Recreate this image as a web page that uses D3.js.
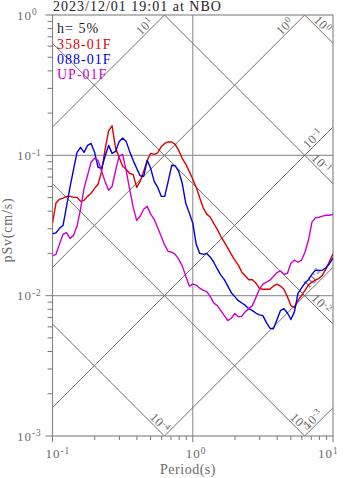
<!DOCTYPE html>
<html><head><meta charset="utf-8">
<script src="https://cdn.jsdelivr.net/npm/d3@7"></script>
<style>
body{margin:0;background:#fff}
svg{display:block}
text{font-family:"Liberation Serif","Times New Roman",serif}
</style>
</head><body>
<svg id="c" width="347" height="478"></svg>
<script>
// ---------- data ----------
const periods = [0.1,0.1059,0.1122,0.1189,0.1259,0.1334,0.1413,0.1496,0.1585,0.1679,
0.1778,0.1884,0.1995,0.2113,0.2239,0.2371,0.2512,0.2661,0.2818,0.2985,
0.3162,0.3350,0.3548,0.3758,0.3981,0.4217,0.4467,0.4732,0.5012,0.5309,
0.5623,0.5957,0.6310,0.6683,0.7079,0.7499,0.7943,0.8414,0.8913,0.9441,
1.0,1.059,1.122,1.189,1.259,1.334,1.413,1.496,1.585,1.679,
1.778,1.884,1.995,2.113,2.239,2.371,2.512,2.661,2.818,2.985,
3.162,3.350,3.548,3.758,3.981,4.217,4.467,4.732,5.012,5.309,
5.623,5.957,6.310,6.683,7.079,7.499,7.943,8.414,8.913,9.441,10.0];

const sv358 = [0.0330,0.0457,0.0486,0.0495,0.0510,0.0510,0.0502,0.0502,0.0470,0.0478,
0.0510,0.0537,0.0582,0.0622,0.0769,0.1103,0.1492,0.1623,0.1121,0.0968,
0.0835,0.0795,0.0742,0.0731,0.0592,0.0652,0.0769,0.0921,0.1033,0.1016,
0.1042,0.1153,0.1216,0.1248,0.1245,0.1198,0.1085,0.0952,0.0866,0.0769,
0.0675,0.0592,0.0496,0.0421,0.0381,0.0362,0.0326,0.0297,0.0265,0.0241,
0.0218,0.0197,0.0179,0.0165,0.0147,0.0138,0.0130,0.0130,0.0123,0.0113,
0.0111,0.0111,0.0111,0.0117,0.0121,0.0117,0.0111,0.00984,0.00849,0.00822,
0.00921,0.0100,0.0109,0.0119,0.0125,0.0129,0.0133,0.0140,0.0155,0.0176,0.0199];

const sv088 = [0.0276,0.0280,0.0302,0.0317,0.0432,0.0597,0.0795,0.1050,0.1140,0.1050,
0.1178,0.1216,0.1050,0.0822,0.0808,0.0984,0.1178,0.1033,0.1067,0.1248,
0.1330,0.1257,0.1067,0.0921,0.0808,0.0715,0.0709,0.0921,0.0808,0.0652,
0.0592,0.0510,0.0510,0.0652,0.0849,0.0842,0.0769,0.0632,0.0456,0.0389,
0.0330,0.0232,0.0200,0.0197,0.0200,0.0188,0.0173,0.0155,0.0140,0.0130,
0.0117,0.0105,0.00984,0.00921,0.00886,0.00852,0.00808,0.00782,0.00752,0.00730,
0.00720,0.00643,0.00586,0.00580,0.00672,0.00782,0.00808,0.00752,0.00676,0.00766,
0.0104,0.0113,0.0123,0.0130,0.0142,0.0152,0.0151,0.0152,0.0158,0.0169,0.0186];

const svUP = [0.0192,0.0197,0.0233,0.0274,0.0281,0.0256,0.0269,0.0312,0.0413,0.0582,
0.0720,0.0893,0.0952,0.0921,0.0769,0.0652,0.0563,0.0602,0.0782,0.0984,
0.1016,0.0782,0.0574,0.0429,0.0344,0.0368,0.0413,0.0433,0.0381,0.0350,
0.0305,0.0265,0.0229,0.0207,0.0204,0.0197,0.0182,0.0163,0.0138,0.0117,
0.0121,0.0119,0.0113,0.0109,0.0107,0.00984,0.00886,0.00849,0.00782,0.00720,
0.00664,0.00690,0.00746,0.00708,0.00714,0.00770,0.00808,0.00849,0.00968,0.0111,
0.0121,0.0125,0.0129,0.0137,0.0146,0.0150,0.0142,0.0144,0.0171,0.0179,
0.0173,0.0179,0.0204,0.0248,0.0334,0.0359,0.0362,0.0369,0.0374,0.0374,0.0380];

const seriesNames  = ["358-01F","088-01F","UP-01F"];
const seriesValues = [sv358, sv088, svUP];
const seriesColors = ["#dd0000","#0000dd","#cc00cc"];

const accelLevels = [0.001,0.01,0.1,1,10];      // cm/s^2 (rising lines)
const dispLevels  = [0.0001,0.001,0.01,0.1,1];  // cm (falling lines)
const xTicks = [0.1,1,10];
const yTicks = [0.001,0.01,0.1,1];
const xGrid = [1];
const yGrid = [0.01,0.1];
const titleText = "2023/12/01 19:01 at NBO";
const dampText = "h= 5%";
const xLabel = "Period(s)";
const yLabel = "pSv(cm/s)";

// ---------- drawing ----------
const svg = d3.select("#c");
const L = 52.5, R = 333, T = 15, B = 436;
const x = d3.scaleLog().domain([0.1,10]).range([L,R]);
const y = d3.scaleLog().domain([0.001,1]).range([B,T]);
const TWO_PI = 2*Math.PI;

svg.append("defs").append("clipPath").attr("id","pc")
  .append("rect").attr("x",L).attr("y",T).attr("width",R-L).attr("height",B-T);

const grey = "#6e6e6e";
const lab = "#6a6a6a";

// grid
const g = svg.append("g");
g.selectAll(".gx").data(xGrid).join("line")
  .attr("x1",d=>x(d)).attr("x2",d=>x(d)).attr("y1",T).attr("y2",B)
  .attr("stroke","#9a9a9a").attr("stroke-width",1.2);
g.selectAll(".gy").data(yGrid).join("line")
  .attr("y1",d=>y(d)).attr("y2",d=>y(d)).attr("x1",L).attr("x2",R)
  .attr("stroke","#9a9a9a").attr("stroke-width",1.2);

// tripartite diagonals
const dg = svg.append("g").attr("clip-path","url(#pc)");
const rising = a => (t => a*t/TWO_PI);
const falling = d => (t => TWO_PI*d/t);
accelLevels.forEach(a=>{
  const f = rising(a);
  dg.append("line").attr("x1",x(0.01)).attr("y1",y(f(0.01))).attr("x2",x(1000)).attr("y2",y(f(1000)))
    .attr("stroke",grey).attr("stroke-width",1);
});
dispLevels.forEach(d=>{
  const f = falling(d);
  dg.append("line").attr("x1",x(0.001)).attr("y1",y(f(0.001))).attr("x2",x(100)).attr("y2",y(f(100)))
    .attr("stroke",grey).attr("stroke-width",1);
});

// diagonal labels
function expLabel(sel, v){
  const e = Math.round(Math.log10(v));
  sel.append("tspan").text("10");
  sel.append("tspan").attr("dy","-0.45em").attr("font-size","0.72em").text(String(e));
}
const dlab = svg.append("g");
const angR = Math.atan2(y(1)-y(0.1), x(1)-x(0.1))*180/Math.PI; // ~ -45
const slope = Math.tan(-angR*Math.PI/180);
accelLevels.forEach(a=>{
  const f = rising(a);
  let ex, ey, back;
  const tTop = TWO_PI/a;
  if (tTop < 10) { ex = x(tTop); ey = T; back = 9; }
  else { ex = R; ey = y(f(10)); back = 8; }
  if (ey > B) return;
  const px = ex - back, py = ey + back*slope;
  const t = dlab.append("text").attr("transform",`translate(${px},${py}) rotate(${angR})`)
    .attr("text-anchor","end").attr("dy",-2).attr("fill",lab).attr("font-size",12.5).attr("letter-spacing",0.5);
  expLabel(t,a);
});
dispLevels.forEach(d=>{
  const f = falling(d);
  let ex, ey, back;
  const svR = f(10);
  if (svR >= 0.001) { ex = R; ey = y(svR); back = 8; }
  else { ex = x(TWO_PI*d/0.001); ey = B; back = 1; }
  const px = ex - back, py = ey - back*slope;
  const t = dlab.append("text").attr("transform",`translate(${px},${py}) rotate(${-angR})`)
    .attr("text-anchor","end").attr("dy",-2).attr("fill",lab).attr("font-size",12.5).attr("letter-spacing",0.5);
  expLabel(t,d);
});

// frame
svg.append("rect").attr("x",L).attr("y",T).attr("width",R-L).attr("height",B-T)
  .attr("fill","none").attr("stroke","#8a8a8a").attr("stroke-width",1.2);

// left ticks
const yMinor = [];
[0.001,0.01,0.1].forEach(b=>{for(let k=2;k<=9;k++) yMinor.push(b*k);});
svg.append("g").selectAll("line").data(yMinor).join("line")
  .attr("x1",L-5).attr("x2",L).attr("y1",d=>y(d)).attr("y2",d=>y(d)).attr("stroke","#777").attr("stroke-width",1);
svg.append("g").selectAll("line").data(yTicks).join("line")
  .attr("x1",L-7).attr("x2",L).attr("y1",d=>y(d)).attr("y2",d=>y(d)).attr("stroke","#777").attr("stroke-width",1);
// bottom ticks
const xMinor = [];
[0.1,1].forEach(b=>{for(let k=2;k<=9;k++) xMinor.push(b*k);});
svg.append("g").selectAll("line").data(xMinor).join("line")
  .attr("y1",B).attr("y2",B+4).attr("x1",d=>x(d)).attr("x2",d=>x(d)).attr("stroke","#777").attr("stroke-width",1);
svg.append("g").selectAll("line").data(xTicks).join("line")
  .attr("y1",B).attr("y2",B+6).attr("x1",d=>x(d)).attr("x2",d=>x(d)).attr("stroke","#777").attr("stroke-width",1);

// tick labels
yTicks.forEach(v=>{
  const t = svg.append("text").attr("x",17).attr("y",y(v)+4.5).attr("fill",lab)
    .attr("font-size",13).attr("letter-spacing",1);
  expLabel(t,v);
});
xTicks.forEach((v,i)=>{
  const sx = i===xTicks.length-1 ? x(v)-15 : x(v)-7;
  const t = svg.append("text").attr("x",sx).attr("y",458).attr("fill",lab)
    .attr("font-size",13).attr("letter-spacing",1);
  expLabel(t,v);
});

// axis titles
svg.append("text").attr("x",188).attr("y",474).attr("text-anchor","middle")
  .attr("fill",lab).attr("font-size",14).attr("letter-spacing",0.5).text(xLabel);
svg.append("text").attr("transform","translate(12,230) rotate(-90)").attr("text-anchor","middle")
  .attr("fill",lab).attr("font-size",14).attr("letter-spacing",0.8).text(yLabel);

// curves
const line = d3.line().x((d,i)=>x(periods[i])).y(d=>y(d));
const cg = svg.append("g").attr("clip-path","url(#pc)");
seriesValues.forEach((vals,i)=>{
  cg.append("path").attr("d",line(vals)).attr("fill","none")
    .attr("stroke",seriesColors[i]).attr("stroke-width",1.4).attr("stroke-linejoin","round");
});

// title & legend
svg.append("text").attr("x",53).attr("y",11).attr("fill","#222").attr("font-size",14)
  .attr("letter-spacing",1).text(titleText);
svg.append("text").attr("x",57).attr("y",33).attr("fill","#222").attr("font-size",14)
  .attr("letter-spacing",1).text(dampText);
seriesNames.forEach((n,i)=>{
  svg.append("text").attr("x",57).attr("y",48.5+15.2*i).attr("fill",seriesColors[i])
    .attr("font-size",14).attr("letter-spacing",1).text(n);
});
</script>
</body></html>
